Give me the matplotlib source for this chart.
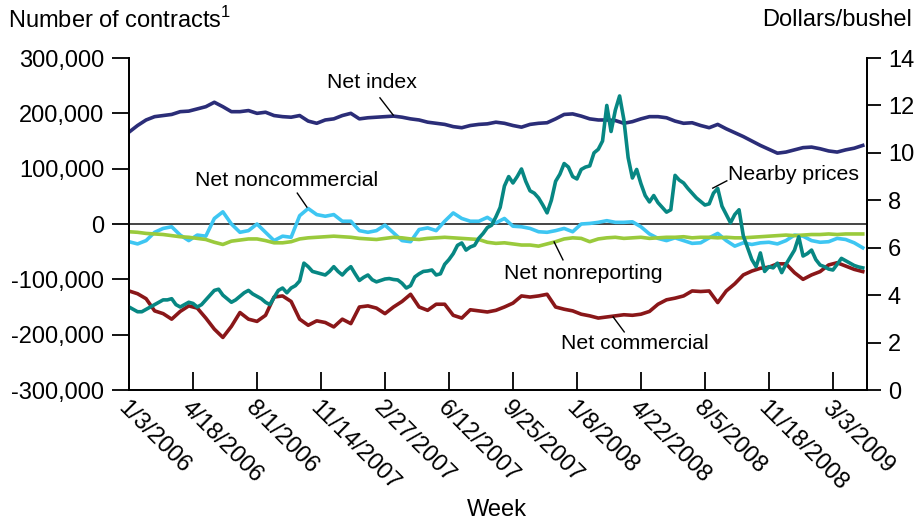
import numpy as np
import pandas as pd
import matplotlib
matplotlib.use("Agg")
import matplotlib.pyplot as plt
from matplotlib.ticker import FuncFormatter, MultipleLocator

plt.rcParams['font.family'] = ['Liberation Sans', 'DejaVu Sans']

# positions, thousands of contracts, every 2 weeks from 1/3/2006
net_index = [166, 178, 188, 194, 196, 198, 203, 204, 208, 212, 220, 212, 203, 203, 205, 200,
             202, 196, 194, 193, 196, 186, 182, 188, 190, 196, 200, 190, 192, 193, 194, 195,
             193, 190, 188, 184, 182, 180, 176, 174, 178, 180, 181, 184, 182, 178, 175, 180,
             182, 183, 190, 198, 199, 195, 190, 188, 188, 187, 182, 185, 190, 194, 194, 192,
             186, 182, 183, 178, 174, 180, 172, 165, 158, 150, 142, 135, 128, 130, 134, 138,
             139, 136, 132, 130, 134, 137, 142]
net_noncommercial = [-32, -36, -30, -15, -8, -5, -20, -30, -20, -22, 10, 22, 0, -15, -12, 0,
                     -15, -30, -22, -24, 15, 28, 17, 14, 17, 5, 5, -12, -15, -12, -2, -16,
                     -30, -32, -10, -7, -12, 5, 20, 10, 5, 5, 12, 2, 10, -4, -5, -8,
                     -14, -15, -12, -8, -14, 0, 1, 3, 6, 3, 3, 4, -5, -18, -26, -30,
                     -25, -30, -35, -34, -25, -17, -30, -40, -34, -37, -34, -33, -36, -30, -20, -22,
                     -30, -33, -32, -26, -28, -34, -43]
net_nonreporting = [-14, -15, -17, -18, -19, -21, -23, -24, -26, -28, -33, -37, -31, -29, -27, -27,
                    -30, -34, -34, -32, -27, -25, -24, -23, -22, -23, -24, -26, -27, -28, -26, -24,
                    -25, -27, -28, -26, -25, -24, -25, -26, -27, -28, -33, -35, -34, -36, -38, -38,
                    -40, -36, -32, -27, -25, -26, -32, -27, -25, -24, -26, -25, -24, -26, -25, -24,
                    -24, -23, -25, -24, -24, -25, -24, -25, -25, -24, -23, -22, -21, -20, -21, -20,
                    -19, -19, -18, -19, -18, -18, -18]
net_commercial = [-121, -126, -135, -157, -162, -172, -158, -148, -152, -170, -190, -205, -185, -160, -172, -176,
                  -165, -132, -130, -140, -172, -183, -175, -178, -186, -172, -180, -150, -148, -152, -162, -150,
                  -140, -127, -150, -156, -145, -145, -165, -170, -155, -157, -159, -156, -150, -143, -130, -132,
                  -130, -127, -150, -154, -157, -163, -166, -170, -168, -166, -164, -165, -163, -158, -145, -137,
                  -134, -130, -121, -122, -121, -142, -121, -108, -92, -85, -80, -78, -72, -72, -88, -100,
                  -92, -86, -74, -70, -76, -82, -86]

# nearby prices, dollars/bushel, weekly
nearby_prices = [3.5, 3.4, 3.3, 3.3, 3.4, 3.5, 3.6, 3.7, 3.8, 3.8, 3.85, 3.6, 3.5, 3.6, 3.7, 3.65,
                 3.5, 3.6, 3.8, 4.0, 4.2, 4.25, 4.0, 3.85, 3.7, 3.8, 3.95, 4.1, 4.2, 4.05, 3.95, 3.85,
                 3.7, 3.6, 3.9, 4.2, 4.3, 4.1, 4.3, 4.4, 4.6, 5.35, 5.2, 5.0, 4.95, 4.9, 4.85, 5.0,
                 5.2, 5.0, 4.85, 5.05, 5.2, 4.9, 4.62, 4.75, 4.85, 4.65, 4.56, 4.62, 4.68, 4.7, 4.66, 4.64,
                 4.5, 4.3, 4.4, 4.77, 4.9, 5.0, 5.02, 5.06, 4.85, 4.9, 5.3, 5.5, 5.75, 6.1, 6.2, 5.9,
                 6.03, 6.1, 6.4, 6.6, 6.85, 6.95, 7.3, 7.7, 8.6, 9.0, 8.73, 9.0, 9.32, 8.8, 8.4, 8.3,
                 8.1, 7.8, 7.47, 8.0, 8.8, 9.1, 9.55, 9.4, 9.0, 8.9, 9.3, 9.4, 9.45, 10.0, 10.15, 10.5,
                 12.0, 10.9, 11.8, 12.4, 11.4, 9.8, 8.94, 9.3, 8.7, 8.2, 7.93, 8.2, 7.9, 7.7, 7.5, 7.6,
                 9.05, 8.85, 8.73, 8.5, 8.3, 8.1, 7.95, 7.8, 7.85, 8.3, 8.5, 7.75, 7.4, 7.05, 7.4, 7.6,
                 6.5, 6.0, 5.5, 5.2, 5.78, 5.0, 5.2, 5.15, 5.35, 4.95, 5.3, 5.6, 5.9, 6.46, 5.65, 5.75,
                 5.9, 5.5, 5.27, 5.2, 5.1, 5.06, 5.3, 5.55, 5.45, 5.35, 5.25, 5.19, 5.15]

tick_labels = ['1/3/2006', '4/18/2006', '8/1/2006', '11/14/2007', '2/27/2007', '6/12/2007',
               '9/25/2007', '1/8/2008', '4/22/2008', '8/5/2008', '11/18/2008', '3/3/2009']

start = pd.Timestamp('2006-01-03')
pos_dates = pd.date_range(start, periods=len(net_index), freq='14D')
price_dates = pd.date_range(start, periods=len(nearby_prices), freq='7D')
tick_dates = pd.date_range(start, periods=len(tick_labels), freq='105D')

fig = plt.figure(figsize=(9.17, 5.23), dpi=100)
ax = fig.add_axes([0.1407, 0.2543, 0.8048, 0.6348])
ax2 = ax.twinx()

lw = 2.6
fs = 17
ax.axhline(0, color='#444444', lw=1.4, zorder=1)
ax.plot(pos_dates, np.array(net_index) * 1000, color='#2B2D78', lw=lw)
ax.plot(pos_dates, np.array(net_commercial) * 1000, color='#8A1719', lw=lw)
ax.plot(pos_dates, np.array(net_noncommercial) * 1000, color='#3EC6F2', lw=lw)
ax.plot(pos_dates, np.array(net_nonreporting) * 1000, color='#9ACA3C', lw=lw)
ax2.plot(price_dates, nearby_prices, color='#078783', lw=lw)

ax.set_xlim(start, start + pd.Timedelta(days=173 * 7))
ax.set_ylim(-300000, 300000)
ax2.set_ylim(0, 14)
ax.yaxis.set_major_locator(MultipleLocator(100000))
ax.yaxis.set_major_formatter(FuncFormatter(lambda v, p: f"{v:,.0f}"))
ax2.yaxis.set_major_locator(MultipleLocator(2))

ax.set_xticks(tick_dates)
ax.set_xticklabels(tick_labels, rotation=-45, ha='left', va='top', rotation_mode='anchor')

for a in (ax, ax2):
    a.spines['top'].set_visible(False)
    for s in ('left', 'right', 'bottom'):
        a.spines[s].set_linewidth(1.3)
ax.tick_params(axis='x', direction='in', length=13, width=1.3, labelsize=fs, pad=5)
ax.tick_params(axis='y', direction='out', length=12, width=1.3, labelsize=fs, pad=6)
ax2.tick_params(axis='y', direction='out', length=10, width=1.3, labelsize=fs, pad=5)

fig.text(0.009, 0.962, r"Number of contracts$^{\mathregular{1}}$", fontsize=fs, va='center', ha='left')
fig.text(0.995, 0.962, "Dollars/bushel", fontsize=fs, va='center', ha='right')
fig.text(0.542, 0.024, "Week", fontsize=fs, va='center', ha='center')

# series labels with leader lines (axes fraction)
labels = [
    ("Net index", (0.329, 0.925), (0.340, 0.880), (0.358, 0.828)),
    ("Net noncommercial", (0.214, 0.630), (0.228, 0.593), (0.241, 0.551)),
    ("Nearby prices", (0.900, 0.648), (0.810, 0.630), (0.791, 0.608)),
    ("Net nonreporting", (0.615, 0.352), (0.588, 0.392), (0.576, 0.446)),
    ("Net commercial", (0.686, 0.139), (0.671, 0.175), (0.656, 0.220)),
]
for txt, tpos, p0, p1 in labels:
    ax2.text(tpos[0], tpos[1], txt, transform=ax2.transAxes, fontsize=15.3,
             ha='center', va='center', zorder=5)
    ax2.plot([p0[0], p1[0]], [p0[1], p1[1]], transform=ax2.transAxes, color='black', lw=1.0)

fig.savefig('out.png', dpi=100)
